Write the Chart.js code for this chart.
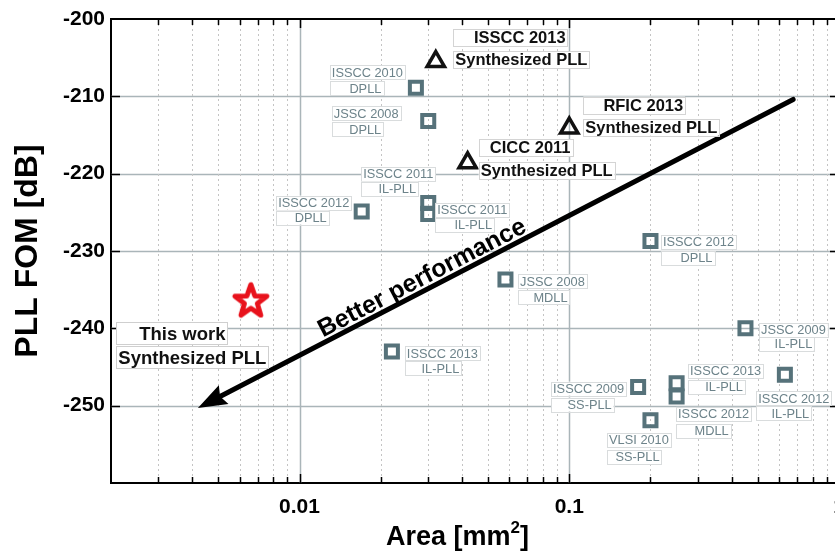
<!DOCTYPE html>
<html>
<head>
<meta charset="utf-8">
<script src="https://cdn.jsdelivr.net/npm/chart.js@4"></script>
<style>
  html, body { margin: 0; padding: 0; background: #fff; overflow: hidden; }
  #wrap { width: 880px; height: 552px; position: relative; }
</style>
</head>
<body>
<div id="wrap"><canvas id="fom"></canvas></div>
<script>
// published PLLs (grey squares)
const refNames = ['ISSCC 2010', 'JSSC 2008', 'ISSCC 2011', 'ISSCC 2011', 'ISSCC 2012', 'JSSC 2008', 'ISSCC 2012',
  'ISSCC 2013', 'JSSC 2009', 'ISSCC 2012', 'ISSCC 2009', 'VLSI 2010', 'ISSCC 2013', 'ISSCC 2012'];
const refTypes = ['DPLL', 'DPLL', 'IL-PLL', 'IL-PLL', 'DPLL', 'MDLL', 'DPLL',
  'IL-PLL', 'IL-PLL', 'IL-PLL', 'SS-PLL', 'SS-PLL', 'IL-PLL', 'MDLL'];
const refArea = [0.027, 0.030, 0.030, 0.030, 0.017, 0.058, 0.20, 0.022, 0.45, 0.63, 0.18, 0.20, 0.25, 0.25];
const refFom = [-208.9, -213.2, -223.8, -225.2, -224.9, -233.7, -228.7, -243.0, -240.0, -246.0, -247.6, -251.9, -247.1, -248.8];

// synthesized PLLs (black triangles)
const synNames = ['ISSCC 2013', 'RFIC 2013', 'CICC 2011'];
const synArea = [0.032, 0.1, 0.042];
const synFom = [-205.5, -214.1, -218.6];

// this work (red star)
const workArea = [0.0066];
const workFom = [-236.4];

// "better performance" arrow, start -> tip
const arrowArea = [0.676, 0.0042];
const arrowFom = [-210.4, -250.3];

const xTickLabels = [0.01, 0.1, 1];
const yTickLabels = [-200, -210, -220, -230, -240, -250];

// label placement: [dx1, dy1, dx2, dy2] in px from the marker
const refLabelPos = [
  [-48.5, -15.5, -50.5, 0.5], [-62, -8, -63, 8], [-30, -29.5, -31, -14.5], [44, -4, 45, 11],
  [-48, -9, -51, 6], [47, 1.5, 45, 17.5], [48, 1, 46, 17], [50.5, 1.5, 48.5, 16.5],
  [48, 1.5, 48, 15.5], [9, 23.5, 5.5, 38.5], [-49.5, 1.5, -48.5, 17.5], [-11.5, 19.5, -13, 36.5],
  [49, -12.5, 47.5, 3.5], [37, 17.5, 35, 34.5]
];
const synLabelPos = [[84, -24, 85.5, -2], [74, -23, 82, -1], [62.5, -15, 79, 8]];
const workLabelPos = [[-68.5, 33, -58.5, 57]];

const FONT = '"Liberation Sans", Arial, sans-serif';
const xy = (xs, ys) => xs.map((v, i) => ({ x: v, y: ys[i] }));
const intMantissa = v => {
  const m = v / Math.pow(10, Math.floor(Math.log10(v) + 1e-9));
  return Math.abs(m - Math.round(m)) < 1e-6;
};

function makeStar() {
  const c = document.createElement('canvas');
  c.width = 46; c.height = 46;
  const g = c.getContext('2d');
  g.beginPath();
  for (let k = 0; k < 10; k++) {
    const r = k % 2 ? 6.8 : 16.8;
    const a = -Math.PI / 2 + k * Math.PI / 5;
    g.lineTo(23 + r * Math.cos(a), 24 + r * Math.sin(a));
  }
  g.closePath();
  g.fillStyle = '#fff';
  g.fill();
  g.lineWidth = 5;
  g.lineJoin = 'round';
  g.strokeStyle = '#e8121c';
  g.stroke();
  return c;
}

const gridPlugin = {
  id: 'gridPlugin',
  beforeDatasetsDraw(chart) {
    const { ctx, chartArea: a, scales: { x, y } } = chart;
    ctx.save();
    ctx.lineWidth = 1.5;
    ctx.strokeStyle = '#aab5b9';
    y.ticks.forEach(t => {
      if (t.value <= y.min || t.value >= y.max) return;
      const py = Math.round(y.getPixelForValue(t.value)) + 0.5;
      ctx.beginPath(); ctx.moveTo(a.left, py); ctx.lineTo(a.right, py); ctx.stroke();
    });
    x.ticks.forEach(t => {
      if (t.value <= x.min || t.value >= x.max) return;
      const px = Math.round(x.getPixelForValue(t.value)) + 0.5;
      const major = xTickLabels.some(v => Math.abs(t.value / v - 1) < 1e-6);
      ctx.beginPath();
      if (major) { ctx.setLineDash([]); ctx.strokeStyle = '#aab5b9'; ctx.lineWidth = 1.5; }
      else { ctx.setLineDash([2, 3]); ctx.strokeStyle = '#c4c4c4'; ctx.lineWidth = 1; }
      ctx.moveTo(px, a.top); ctx.lineTo(px, a.bottom); ctx.stroke();
    });
    ctx.setLineDash([]);
    // inward ticks
    ctx.strokeStyle = '#000';
    ctx.lineWidth = 1.5;
    x.ticks.forEach(t => {
      if (t.value <= x.min || t.value >= x.max) return;
      const px = Math.round(x.getPixelForValue(t.value)) + 0.5;
      const major = xTickLabels.some(v => Math.abs(t.value / v - 1) < 1e-6);
      const len = major ? 9 : 6;
      ctx.beginPath();
      ctx.moveTo(px, a.bottom); ctx.lineTo(px, a.bottom - len);
      ctx.moveTo(px, a.top); ctx.lineTo(px, a.top + len);
      ctx.stroke();
    });
    y.ticks.forEach(t => {
      if (t.value <= y.min || t.value >= y.max) return;
      const py = Math.round(y.getPixelForValue(t.value)) + 0.5;
      ctx.beginPath();
      ctx.moveTo(a.left, py); ctx.lineTo(a.left + 9, py);
      ctx.moveTo(a.right, py); ctx.lineTo(a.right - 9, py);
      ctx.stroke();
    });
    // top + right frame
    ctx.lineWidth = 2;
    ctx.beginPath();
    ctx.moveTo(a.left, a.top); ctx.lineTo(a.right, a.top); ctx.lineTo(a.right, a.bottom);
    ctx.stroke();
    ctx.restore();
  },
  afterDatasetsDraw(chart) {
    const { ctx, chartArea: a, scales: { x, y } } = chart;
    ctx.save();

    // arrow
    const p0 = { x: x.getPixelForValue(arrowArea[0]), y: y.getPixelForValue(arrowFom[0]) };
    const p1 = { x: x.getPixelForValue(arrowArea[1]), y: y.getPixelForValue(arrowFom[1]) };
    const L = Math.hypot(p1.x - p0.x, p1.y - p0.y);
    const ux = (p1.x - p0.x) / L, uy = (p1.y - p0.y) / L;
    const hl = 29, hw = 10.5;
    const bx = p1.x - ux * hl, by = p1.y - uy * hl;
    ctx.strokeStyle = '#000';
    ctx.lineWidth = 5;
    ctx.lineCap = 'round';
    ctx.beginPath(); ctx.moveTo(p0.x, p0.y); ctx.lineTo(bx + ux * 3, by + uy * 3); ctx.stroke();
    ctx.fillStyle = '#000';
    ctx.beginPath();
    ctx.moveTo(p1.x, p1.y);
    ctx.lineTo(bx - uy * hw, by + ux * hw);
    ctx.lineTo(bx + ux * 4, by + uy * 4);
    ctx.lineTo(bx + uy * hw, by - ux * hw);
    ctx.closePath();
    ctx.fill();

    // arrow caption
    const t = 0.386;
    const cx = p1.x + (p0.x - p1.x) * t, cy = p1.y + (p0.y - p1.y) * t;
    ctx.save();
    ctx.translate(cx, cy);
    ctx.rotate(Math.atan2(p0.y - p1.y, p0.x - p1.x));
    ctx.font = 'bold 25px ' + FONT;
    ctx.textAlign = 'center';
    ctx.textBaseline = 'alphabetic';
    ctx.fillText('Better performance', 0, -5);
    ctx.restore();

    // text boxes
    function label(px, py, pos, l1, l2, font, color, h, border) {
      ctx.font = font;
      const w1 = ctx.measureText(l1).width, w2 = ctx.measureText(l2).width;
      const c1 = [px + pos[0], py + pos[1]], c2 = [px + pos[2], py + pos[3]];
      const left = Math.min(c1[0] - w1 / 2, c2[0] - w2 / 2) - 2;
      ctx.lineWidth = 1;
      ctx.strokeStyle = border;
      ctx.fillStyle = '#fff';
      [[c1, w1], [c2, w2]].forEach(([c, w]) => {
        const r = c[0] + w / 2 + 2;
        ctx.fillRect(left, c[1] - h / 2, r - left, h);
        ctx.strokeRect(Math.round(left) + 0.5, Math.round(c[1] - h / 2) + 0.5, Math.round(r - left), Math.round(h));
      });
      ctx.fillStyle = color;
      ctx.textAlign = 'center';
      ctx.textBaseline = 'middle';
      ctx.fillText(l1, c1[0], c1[1] + 1);
      ctx.fillText(l2, c2[0], c2[1] + 1);
    }
    refArea.forEach((v, i) => {
      label(x.getPixelForValue(v), y.getPixelForValue(refFom[i]), refLabelPos[i], refNames[i], refTypes[i],
        '12.8px ' + FONT, '#6d838a', 14, '#d9dcdd');
    });
    synArea.forEach((v, i) => {
      label(x.getPixelForValue(v), y.getPixelForValue(synFom[i]), synLabelPos[i], synNames[i], 'Synthesized PLL',
        'bold 16.5px ' + FONT, '#111', 17, '#d4d4d4');
    });
    workArea.forEach((v, i) => {
      label(x.getPixelForValue(v), y.getPixelForValue(workFom[i]), workLabelPos[i], 'This work', 'Synthesized PLL',
        'bold 18.5px ' + FONT, '#111', 22, '#cfcfcf');
    });

    // axis titles
    ctx.fillStyle = '#000';
    ctx.textBaseline = 'alphabetic';
    ctx.save();
    ctx.translate(37, (a.top + a.bottom) / 2);
    ctx.rotate(-Math.PI / 2);
    ctx.font = 'bold 32px ' + FONT;
    ctx.textAlign = 'center';
    ctx.fillText('PLL FOM [dB]', 0, 0);
    ctx.restore();

    ctx.font = 'bold 27px ' + FONT;
    const wMain = ctx.measureText('Area [mm').width;
    ctx.font = 'bold 17px ' + FONT;
    const wSup = ctx.measureText('2').width;
    ctx.font = 'bold 27px ' + FONT;
    const wEnd = ctx.measureText(']').width;
    let tx = 457.5 - (wMain + wSup + wEnd) / 2;
    ctx.textAlign = 'left';
    ctx.fillText('Area [mm', tx, 545);
    ctx.font = 'bold 17px ' + FONT;
    ctx.fillText('2', tx + wMain, 533);
    ctx.font = 'bold 27px ' + FONT;
    ctx.fillText(']', tx + wMain + wSup, 545);
    ctx.restore();
  }
};

new Chart(document.getElementById('fom'), {
  type: 'scatter',
  data: {
    datasets: [
      {
        label: 'Published PLLs',
        data: xy(refArea, refFom),
        pointStyle: 'rect',
        pointRadius: 8.5,
        borderWidth: 4,
        borderColor: '#56727a',
        backgroundColor: 'rgba(0,0,0,0)'
      },
      {
        label: 'Synthesized PLLs',
        data: xy(synArea, synFom),
        pointStyle: 'triangle',
        pointRadius: 10,
        borderWidth: 3.5,
        borderColor: '#111',
        backgroundColor: 'rgba(0,0,0,0)'
      },
      {
        label: 'This work',
        data: xy(workArea, workFom),
        pointStyle: makeStar(),
        pointRadius: 18
      }
    ]
  },
  options: {
    responsive: true,
    maintainAspectRatio: false,
    animation: false,
    events: [],
    layout: { padding: { top: 17, right: 41, bottom: 0, left: 0 } },
    plugins: { legend: { display: false }, tooltip: { enabled: false } },
    scales: {
      x: {
        type: 'logarithmic',
        min: 0.002,
        max: 1,
        afterFit: s => { s.height = 69; },
        afterBuildTicks: s => { s.ticks = s.ticks.filter(t => intMantissa(t.value)); },
        grid: { drawOnChartArea: false, drawTicks: false },
        border: { color: '#000', width: 2 },
        ticks: {
          autoSkip: false,
          maxRotation: 0,
          padding: 12,
          color: '#000',
          font: { family: FONT, size: 21, weight: 'bold' },
          callback: v => {
            const m = xTickLabels.find(t => Math.abs(v / t - 1) < 1e-6);
            return m === undefined ? '' : String(m);
          }
        }
      },
      y: {
        min: -260,
        max: -200,
        afterFit: s => { s.width = 111; },
        grid: { drawOnChartArea: false, drawTicks: false },
        border: { color: '#000', width: 2 },
        ticks: {
          stepSize: 10,
          padding: 6,
          color: '#000',
          font: { family: FONT, size: 21, weight: 'bold' },
          callback: v => yTickLabels.includes(v) ? String(v) : ''
        }
      }
    }
  },
  plugins: [gridPlugin]
});
</script>
</body>
</html>
